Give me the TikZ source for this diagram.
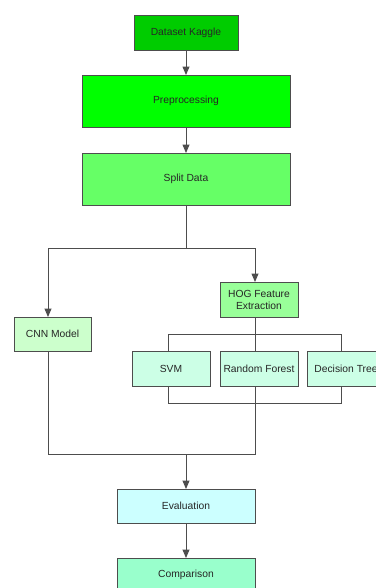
\documentclass[tikz,border=0pt]{standalone}
\usepackage{fontspec}
\setmainfont{Liberation Sans}
\usetikzlibrary{arrows}
\usetikzlibrary{positioning}
\definecolor{D}{HTML}{00CC00}
\definecolor{P}{HTML}{00FF00}
\definecolor{S}{HTML}{66FF66}
\definecolor{H}{HTML}{99FF99}
\definecolor{M}{HTML}{CCFFCC}
\definecolor{A}{HTML}{CCFFE6}
\definecolor{E}{HTML}{CCFFFF}
\definecolor{R}{HTML}{99FFCC}
\definecolor{edge}{HTML}{4D4D4D}
\tikzstyle{base}=[x=1pt, y=-1pt, inner sep=0pt, outer sep=0pt]
\tikzstyle{block}=[draw=edge, line width=0.9pt, text=black!85, align=center, font=\fontsize{10.3}{12}\selectfont]
\tikzstyle{wire}=[draw=edge, line width=0.9pt]
\tikzstyle{arrow}=[wire, -triangle 45]

\begin{document}
\begin{tikzpicture}[base]
    \path [use as bounding box, fill=white] (0,0) rectangle (375,588);
    % main column
    \node [block, fill=D, minimum width=104, minimum height=35] (data) at (186,32.5) {Dataset Kaggle};
    \node [block, fill=P, minimum width=208, minimum height=52] (prep) at (186,101) {Preprocessing};
    \node [block, fill=S, minimum width=208, minimum height=52] (split) at (186,179) {Split Data};
    % two branches
    \node [block, fill=M, minimum width=77, minimum height=34] (cnn) at (52.5,334) {CNN Model};
    \node [block, fill=H, minimum width=78, minimum height=35] (hog) at (259,299.5) {HOG Feature\\Extraction};
    \node [block, fill=A, minimum width=78, minimum height=35] (svm) at (171,368.5) {SVM};
    \node [block, fill=A, minimum width=78, minimum height=35] (rf) at (259,368.5) {Random Forest};
    \node [block, fill=A, minimum width=78, minimum height=35] (dt) at (346,368.5) {Decision Tree};
    \node [block, fill=E, minimum width=138, minimum height=34] (eval) at (186,506) {Evaluation};
    \node [block, fill=R, minimum width=138, minimum height=34] (comp) at (186,575) {Comparison};
    % junctions
    \coordinate (split_l) at (48,248);
    \coordinate (split_r) at (255,248);
    \coordinate (top_l) at (168,334);
    \coordinate (top_r) at (341,334);
    \coordinate (bot_l) at (168,403);
    \coordinate (bot_r) at (341,403);
    \coordinate (join_l) at (48,454);
    \coordinate (join_r) at (255,454);
    \coordinate (join) at (186,454);
    \draw [arrow] (data) -- (prep);
    \draw [arrow] (prep) -- (split);
    \draw [wire] (split) -- (split.south |- split_l);
    \draw [wire] (split_l) -- (split_r);
    \draw [arrow] (split_l) -- (split_l |- cnn.north);
    \draw [arrow] (split_r) -- (split_r |- hog.north);
    \draw [wire] (split_r |- hog.south) -- (split_r |- rf.north);
    \draw [wire] (top_l |- svm.north) -- (top_l) -- (top_r) -- (top_r |- dt.north);
    \draw [wire] (bot_l |- svm.south) -- (bot_l) -- (bot_r) -- (bot_r |- dt.south);
    \draw [wire] (split_r |- rf.south) -- (join_r) -- (join_l) -- (split_l |- cnn.south);
    \draw [arrow] (join) -- (eval);
    \draw [arrow] (eval) -- (comp);
\end{tikzpicture}
\end{document}
